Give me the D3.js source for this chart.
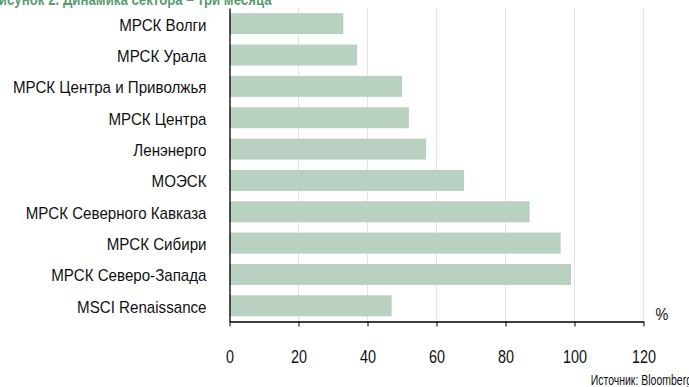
<!DOCTYPE html>
<html>
<head>
<meta charset="utf-8">
<script src="https://cdn.jsdelivr.net/npm/d3@7"></script>
<style>
  body { margin: 0; background: #fff; }
  text { font-family: "Liberation Sans", Arial, sans-serif; }
</style>
</head>
<body>
<script>
var w = 689;
var h = 387;

var companies = [
    "МРСК Волги",
    "МРСК Урала",
    "МРСК Центра и Приволжья",
    "МРСК Центра",
    "Ленэнерго",
    "МОЭСК",
    "МРСК Северного Кавказа",
    "МРСК Сибири",
    "МРСК Северо-Запада",
    "MSCI Renaissance"
];
var change = [33, 37, 50, 52, 57, 68, 87, 96, 99, 47];   // %, three months
var xTicks = [0, 20, 40, 60, 80, 100, 120];

var title = "Рисунок 2. Динамика сектора – три месяца";
var source = "Источник: Bloomberg";

var plotLeft = 229.5, plotRight = 643.5, plotTop = 8, plotBottom = 321.5;

// the original uses a condensed face, so squeeze text horizontally
function narrow(sel, k) {
    sel.each(function() {
        var t = d3.select(this);
        var x = +t.attr("x") || 0;
        t.attr("x", x / k)
         .attr("transform", "scale(" + k + ",1)");
    });
}

var svg = d3.select("body")
            .append("svg")
            .attr("width", w)
            .attr("height", h);

var xScale = d3.scaleLinear()
                .domain([0, 120])
                .range([plotLeft, plotRight]);

var yScale = d3.scaleBand()
                .domain(companies)
                .range([plotTop, plotBottom])
                .paddingInner(0.33)
                .paddingOuter(0.165);

// vertical gridlines
svg.selectAll("line.grid")
    .data(xTicks.slice(1))
    .enter()
    .append("line")
    .attr("class", "grid")
    .attr("x1", function(d) { return xScale(d); })
    .attr("x2", function(d) { return xScale(d); })
    .attr("y1", plotTop)
    .attr("y2", plotBottom)
    .attr("stroke", "#e3e3e3")
    .attr("stroke-width", 1);

svg.selectAll("rect")
    .data(change)
    .enter()
    .append("rect")
    .attr("x", xScale(0))
    .attr("y", function(d, i) { return yScale(companies[i]); })
    .attr("width", function(d) { return xScale(d) - xScale(0); })
    .attr("height", yScale.bandwidth())
    .attr("fill", "#b8d1c1");

// x axis
var xAxis = d3.axisBottom(xScale)
                .tickValues(xTicks)
                .tickSize(5)
                .tickSizeOuter(0)
                .tickPadding(24);

var gx = svg.append("g")
    .attr("transform", "translate(0," + plotBottom + ")")
    .call(xAxis);
gx.select(".domain").attr("stroke", "#000").attr("stroke-width", 1.3);
gx.selectAll(".tick line").attr("stroke", "#000");
gx.selectAll(".tick text")
    .attr("font-family", "Liberation Sans, Arial, sans-serif")
    .attr("font-size", 18)
    .attr("fill", "#111")
    .call(narrow, 0.8);

// y axis
var yAxis = d3.axisLeft(yScale)
                .tickSize(0)
                .tickPadding(23);

var gy = svg.append("g")
    .attr("transform", "translate(" + plotLeft + ",0)")
    .call(yAxis);
gy.select(".domain").attr("stroke", "#000").attr("stroke-width", 1.3);
gy.selectAll(".tick text")
    .attr("font-family", "Liberation Sans, Arial, sans-serif")
    .attr("font-size", 17)
    .attr("dy", "0.41em")
    .attr("fill", "#111")
    .call(narrow, 0.89);

svg.append("text")
    .attr("x", 662)
    .attr("y", 320)
    .attr("text-anchor", "middle")
    .attr("font-size", 17)
    .attr("fill", "#111")
    .text("%")
    .call(narrow, 0.85);

svg.append("text")
    .attr("x", 692)
    .attr("y", 385)
    .attr("text-anchor", "end")
    .attr("font-size", 14)
    .attr("fill", "#111")
    .text(source)
    .call(narrow, 0.75);

svg.append("text")
    .attr("x", -10)
    .attr("y", 5)
    .attr("font-size", 17)
    .attr("font-weight", "bold")
    .attr("fill", "#5d9b72")
    .text(title)
    .call(narrow, 0.78);
</script>
</body>
</html>
